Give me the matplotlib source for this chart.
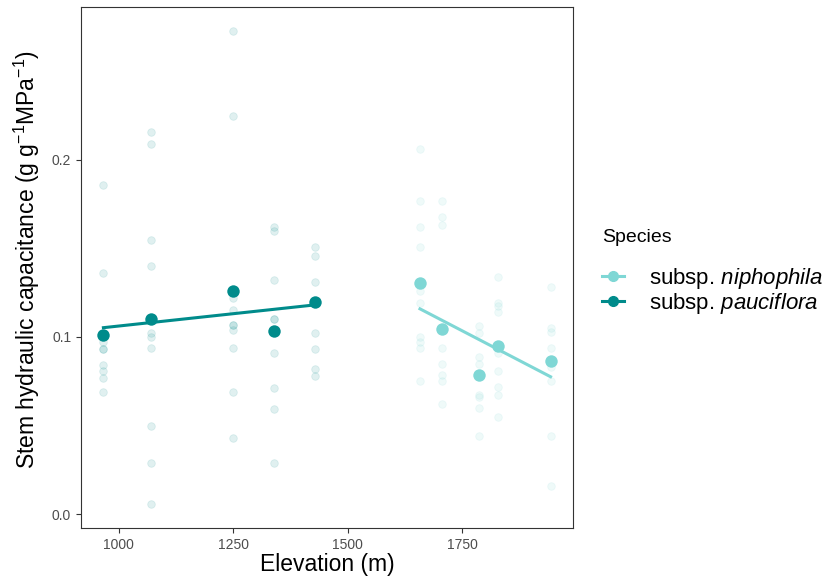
import matplotlib
matplotlib.use('Agg')
import matplotlib.pyplot as plt
from matplotlib.lines import Line2D
import numpy as np

plt.rcParams['font.family'] = ['Liberation Sans', 'DejaVu Sans']
plt.rcParams['mathtext.fontset'] = 'custom'
plt.rcParams['mathtext.rm'] = 'Liberation Sans'
plt.rcParams['mathtext.it'] = 'Liberation Sans:italic'

# raw observations: elevation (m) -> capacitance values
pauc_elev = [967, 1071, 1250, 1339, 1429]
pauc_raw = [
    [0.186, 0.136, 0.097, 0.093, 0.093, 0.084, 0.081, 0.077, 0.069],
    [0.216, 0.209, 0.155, 0.140, 0.102, 0.100, 0.094, 0.050, 0.029, 0.0055],
    [0.273, 0.225, 0.122, 0.115, 0.107, 0.107, 0.104, 0.094, 0.069, 0.043],
    [0.162, 0.160, 0.132, 0.110, 0.110, 0.091, 0.071, 0.0595, 0.029],
    [0.151, 0.146, 0.131, 0.102, 0.093, 0.082, 0.078],
]
pauc_mean = [0.1013, 0.1100, 0.1258, 0.1034, 0.1198]

niph_elev = [1658, 1707, 1787, 1828, 1943]
niph_raw = [
    [0.206, 0.177, 0.162, 0.151, 0.126, 0.119, 0.100, 0.097, 0.094, 0.075],
    [0.177, 0.168, 0.163, 0.094, 0.085, 0.0785, 0.075, 0.062],
    [0.106, 0.102, 0.0885, 0.085, 0.067, 0.066, 0.060, 0.044],
    [0.134, 0.119, 0.1175, 0.114, 0.091, 0.081, 0.072, 0.067, 0.055],
    [0.128, 0.105, 0.103, 0.094, 0.083, 0.075, 0.044, 0.016],
]
niph_mean = [0.1303, 0.1043, 0.0784, 0.0949, 0.0864]

col_pauc = '#008b8b'
col_niph = '#7fd7d5'

fig = plt.figure(figsize=(8.26, 5.78), dpi=100)
ax = fig.add_axes([0.098, 0.0865, 0.5957, 0.9014])

for elev, raw, mean, col in [(pauc_elev, pauc_raw, pauc_mean, col_pauc),
                             (niph_elev, niph_raw, niph_mean, col_niph)]:
    for x, vals in zip(elev, raw):
        ax.scatter([x] * len(vals), vals, s=30, color=col, alpha=0.12,
                   linewidths=0.6, edgecolors=col, zorder=2)
    fit = np.polyfit(elev, mean, 1)
    xs = np.array([min(elev), max(elev)])
    ax.plot(xs, np.polyval(fit, xs), color=col, lw=2.2, zorder=3)
    ax.scatter(elev, mean, s=80, color=col, linewidths=0, zorder=4)

ax.set_xlim(918, 1992)
ax.set_ylim(-0.0079, 0.2864)
ax.set_xticks([1000, 1250, 1500, 1750])
ax.set_yticks([0.0, 0.1, 0.2])
ax.set_yticklabels(['0.0', '0.1', '0.2'])
ax.tick_params(colors='#333333', labelcolor='#4d4d4d', labelsize=10,
               length=3.5, width=0.8)
for s in ax.spines.values():
    s.set_color('#333333')
    s.set_linewidth(0.8)

ax.set_xlabel('Elevation (m)', fontsize=16.5, labelpad=1)
ax.set_ylabel('Stem hydraulic capacitance (g g$^{\\mathregular{-1}}$MPa$^{\\mathregular{-1}}$)',
              fontsize=16.5)
ax.yaxis.set_label_coords(-0.08, 0.515)

handles = [Line2D([], [], color=col_niph, lw=2.2, marker='o', markersize=7),
           Line2D([], [], color=col_pauc, lw=2.2, marker='o', markersize=7)]
labels = ['subsp. $\\it{niphophila}$', 'subsp. $\\it{pauciflora}$']
leg = fig.legend(handles, labels, title='Species', loc='upper left',
                 bbox_to_anchor=(0.718, 0.619), frameon=False,
                 fontsize=16, title_fontsize=14, handlelength=1.0,
                 labelspacing=0.0, handletextpad=1.1, borderaxespad=0)
leg._legend_box.align = 'left'
leg._legend_box.sep = 14

fig.savefig('out.png', dpi=100)
